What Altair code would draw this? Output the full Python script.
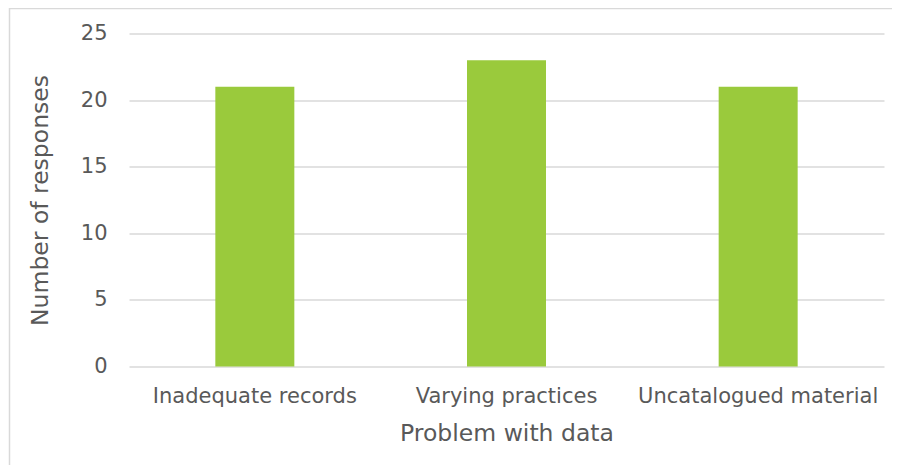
import altair as alt
import pandas as pd

categories = ["Inadequate records", "Varying practices", "Uncatalogued material"]
responses = [21, 23, 21]
y_ticks = [0, 5, 10, 15, 20, 25]

df = pd.DataFrame({"problem": categories, "responses": responses})
frame = pd.DataFrame({"k": [0]})

FONT = "DejaVu Sans"
TXT = "#595959"
GRID = "#d9d9d9"

bars = alt.Chart(df).mark_bar(color="#9aca3c", size=79).encode(
    x=alt.X("problem:N", sort=categories,
            scale=alt.Scale(paddingInner=0, paddingOuter=0),
            axis=alt.Axis(title="Problem with data", labelAngle=0, domain=False, ticks=False,
                          labelPadding=19, titlePadding=15, labelFontSize=21, titleFontSize=23.5,
                          labelLimit=0,
                          labelColor=TXT, titleColor=TXT, labelFont=FONT, titleFont=FONT,
                          titleFontWeight="normal")),
    y=alt.Y("responses:Q", scale=alt.Scale(domain=[0, 25], nice=False),
            axis=alt.Axis(title="Number of responses", values=y_ticks, domain=False, ticks=False,
                          grid=True, gridColor=GRID, gridWidth=1.5, labelPadding=22,
                          titlePadding=28, labelFontSize=21, titleFontSize=23.5,
                          labelColor=TXT, titleColor=TXT, labelFont=FONT, titleFont=FONT,
                          titleFontWeight="normal")),
)

border = alt.Chart(frame).mark_rect(fill="transparent", stroke=GRID, strokeWidth=1.5).encode(
    x=alt.value(-119.5), x2=alt.value(900), y=alt.value(-25), y2=alt.value(600)
)

chart = alt.layer(border, bars).properties(
    width=755, height=333,
    autosize=alt.AutoSizeParams(type="none"),
    padding={"left": 121, "top": 25.5, "right": 8, "bottom": 98},
).configure_view(stroke=None)

chart.save("out.html", embed_options={"renderer": "svg", "actions": False})
